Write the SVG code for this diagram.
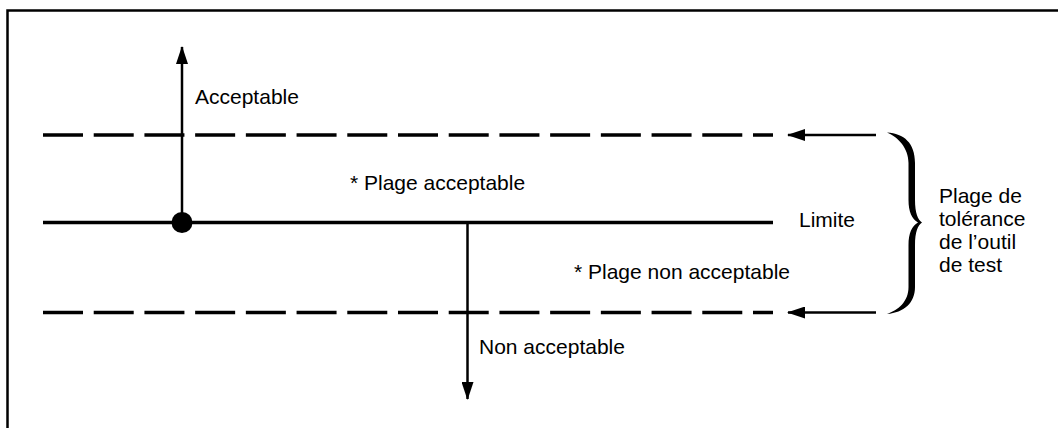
<svg xmlns="http://www.w3.org/2000/svg" width="1058" height="428" viewBox="0 0 1058 428">
  <style>
    .lbl { font-family: "Liberation Sans", Arial, sans-serif; font-size: 21px; fill: #000; }
    .frame { fill: none; stroke: #000; stroke-width: 2.5; }
    .dash { fill: none; stroke: #000; stroke-width: 3.5; stroke-dasharray: 40 10.714; }
    .solid { fill: none; stroke: #000; stroke-width: 3.5; }
    .arrow { fill: none; stroke: #000; stroke-width: 2.5; }
  </style>
  <defs>
    <marker id="head" viewBox="0 0 18 12" refX="17" refY="6" markerWidth="18" markerHeight="12" markerUnits="userSpaceOnUse" orient="auto">
      <path d="M0,0 L18,6 L0,12 Z" fill="#000"/>
    </marker>
  </defs>

  <rect width="1058" height="428" fill="#fff"/>

  <!-- outer frame (continues past right and bottom edges) -->
  <path class="frame" d="M7.5,440 L7.5,10.5 L1070,10.5"/>

  <!-- range boundaries and limit line -->
  <g id="bounds">
    <line id="upper-bound" class="dash" x1="43" y1="135" x2="773" y2="135"/>
    <line id="lower-bound" class="dash" x1="43" y1="312.5" x2="773" y2="312.5"/>
    <line id="limit-line" class="solid" x1="43" y1="222.5" x2="773" y2="222.5"/>
  </g>

  <g id="connectors">
    <line class="arrow" x1="182" y1="222" x2="182" y2="47" marker-end="url(#head)"/>
    <line class="arrow" x1="467.5" y1="222" x2="467.5" y2="399" marker-end="url(#head)"/>
    <line class="arrow" x1="876" y1="135" x2="788" y2="135" marker-end="url(#head)"/>
    <line class="arrow" x1="876" y1="312.5" x2="788" y2="312.5" marker-end="url(#head)"/>
  </g>

  <g id="origin-dot">
    <circle cx="182" cy="222.5" r="10.5" fill="#000"/>
  </g>

  <g id="brace">
    <path fill="#000" d="M887,132.5 C904,133.5 915,143 915,163 L915,200 C915,213 918,220 922,222.5 C918,225 915,232 915,245 L915,287 C915,303 904,312.5 887,314 C898,310 908.5,302 908.5,287 L908.5,245 C908.5,233 912,226 918,222.5 C912,219 908.5,212 908.5,200 L908.5,163 C908.5,148 898,137 887,132.5 Z"/>
  </g>

  <g id="label-acceptable"><text class="lbl" x="195" y="104">Acceptable</text></g>
  <g id="label-plage-acceptable"><text class="lbl" x="350" y="190">* Plage acceptable</text></g>
  <g id="label-limite"><text class="lbl" x="799" y="227">Limite</text></g>
  <g id="label-plage-non-acceptable"><text class="lbl" x="574" y="279">* Plage non acceptable</text></g>
  <g id="label-non-acceptable"><text class="lbl" x="479" y="354">Non acceptable</text></g>
  <g id="label-tolerance">
    <text class="lbl" x="939" y="203">Plage de</text>
    <text class="lbl" x="939" y="226">tolérance</text>
    <text class="lbl" x="939" y="249">de l’outil</text>
    <text class="lbl" x="939" y="272">de test</text>
  </g>
</svg>
